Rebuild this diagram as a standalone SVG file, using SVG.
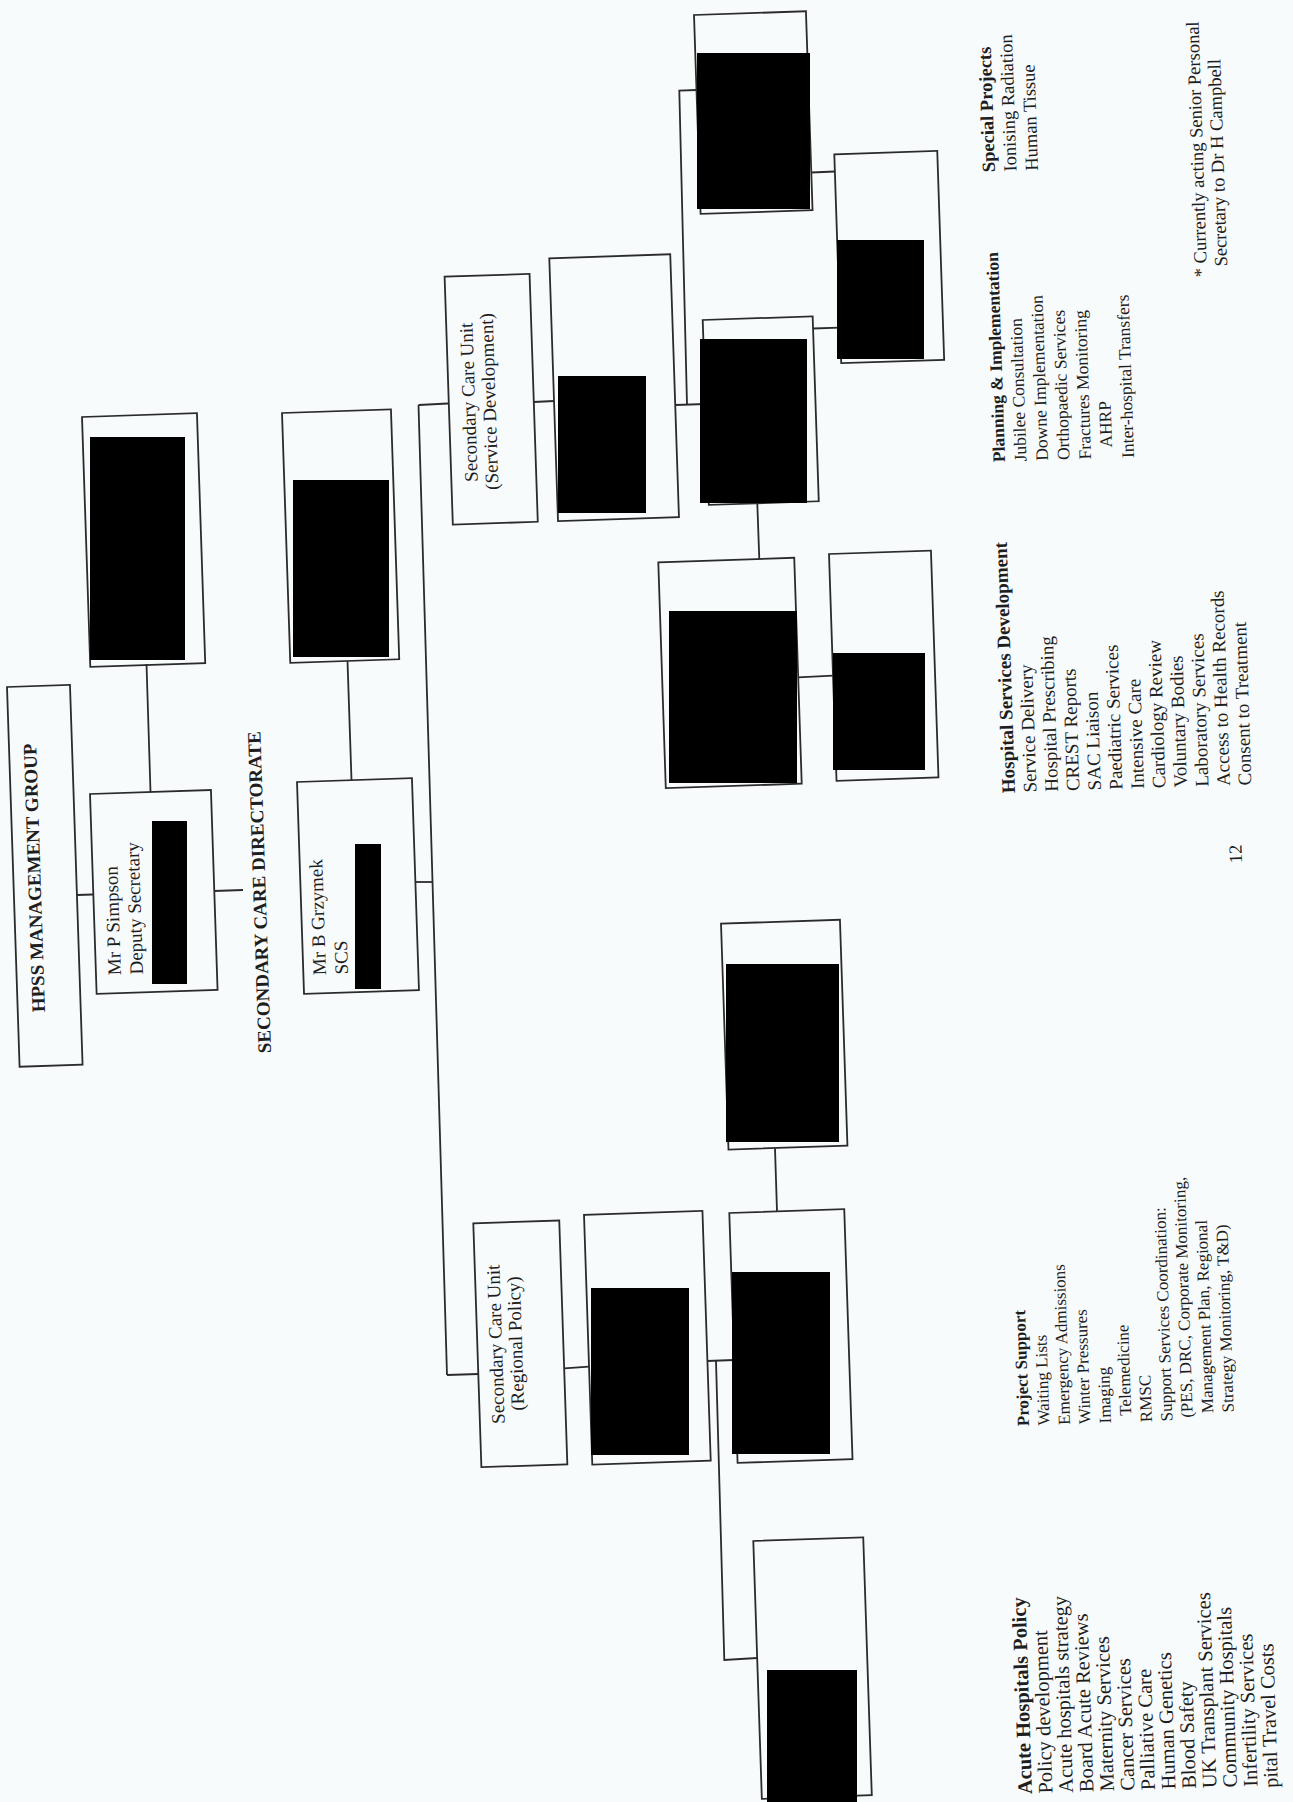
<svg xmlns="http://www.w3.org/2000/svg" width="1293" height="1802" viewBox="0 0 1293 1802">
<style>
.box{fill:none;stroke:#2b2b2b;stroke-width:1.8}
.red{fill:#000}
.ln{fill:none;stroke:#2b2b2b;stroke-width:1.8}
text{font-family:"Liberation Serif","Times New Roman",serif;fill:#1e1e1e}
.t{font-size:19px}
.b{font-weight:bold}
.l{font-size:18.5px}
.h{font-size:19px}
.s{font-size:17.5px}
.p{font-size:17px}
.a{font-size:20.5px}
</style>
<rect x="0" y="0" width="1293" height="1802" fill="#f8fbfc"/>

<g id="connectors">
<line class="ln" x1="77" y1="895" x2="93" y2="894.5"/>
<line class="ln" x1="214" y1="891" x2="243" y2="890"/>
<line class="ln" x1="150.5" y1="792" x2="146.5" y2="664"/>
<line class="ln" x1="351.5" y1="780" x2="347.5" y2="661"/>
<line class="ln" x1="415.5" y1="882" x2="432.5" y2="882"/>
<line class="ln" x1="418.5" y1="405" x2="447" y2="1375"/>
<line class="ln" x1="418.5" y1="405" x2="448" y2="403.5"/>
<line class="ln" x1="447" y1="1375" x2="478.3" y2="1374"/>
<line class="ln" x1="533.6" y1="402" x2="554" y2="401"/>
<line class="ln" x1="675.4" y1="405" x2="705.5" y2="404"/>
<polyline class="ln" points="687,404.5 679.3,90.7 696.5,90"/>
<line class="ln" x1="811.3" y1="172.5" x2="834.9" y2="171.5"/>
<line class="ln" x1="813" y1="328.5" x2="840" y2="327.7"/>
<line class="ln" x1="757.3" y1="503.4" x2="759.3" y2="559"/>
<line class="ln" x1="798" y1="677.3" x2="833" y2="675.7"/>
<line class="ln" x1="775" y1="1148.4" x2="777" y2="1211.4"/>
<line class="ln" x1="564.2" y1="1368.3" x2="589" y2="1366.7"/>
<line class="ln" x1="707.3" y1="1361" x2="734" y2="1360"/>
<polyline class="ln" points="716,1361 724.3,1660 757.2,1658"/>
</g>

<g id="hpss">
<rect class="box" x="7" y="687" width="63" height="380" transform="rotate(-1.9 7 687)"/>
<text class="t b" transform="translate(45 1012) rotate(-91.9)">HPSS MANAGEMENT GROUP</text>
</g>

<g id="simpson">
<rect class="box" x="90" y="794" width="121" height="200" transform="rotate(-1.9 90 794)"/>
<g transform="translate(121 975) rotate(-91.9)">
<text class="t" x="0" y="0">Mr P Simpson</text>
<text class="t" x="0" y="22">Deputy Secretary</text>
</g>
<rect class="red" x="152" y="821" width="35" height="163"/>
</g>

<g id="box-a">
<rect class="box" x="82" y="417" width="115" height="250" transform="rotate(-1.9 82 417)"/>
<rect class="red" x="90" y="437" width="95" height="223"/>
</g>

<g id="directorate-label">
<text class="t b" transform="translate(271 1053) rotate(-91.9)">SECONDARY CARE DIRECTORATE</text>
</g>

<g id="grzymek">
<rect class="box" x="297" y="782" width="115" height="212" transform="rotate(-1.9 297 782)"/>
<g transform="translate(326 975) rotate(-91.9)">
<text class="t" x="0" y="0">Mr B Grzymek</text>
<text class="t" x="0" y="22">SCS</text>
</g>
<rect class="red" x="355" y="844" width="26" height="145"/>
</g>

<g id="box-b">
<rect class="box" x="282" y="413" width="109" height="250" transform="rotate(-1.9 282 413)"/>
<rect class="red" x="293" y="480" width="96" height="177"/>
</g>

<g id="scu-service-development">
<rect class="box" x="444.6" y="276.7" width="85" height="248" transform="rotate(-1.9 444.6 276.7)"/>
<g transform="translate(475 402) rotate(-91.9)">
<text class="t" x="0" y="0" text-anchor="middle">Secondary Care Unit</text>
<text class="t" x="0" y="20.5" text-anchor="middle">(Service Development)</text>
</g>
</g>

<g id="box-c">
<rect class="box" x="549.3" y="258.3" width="121" height="263" transform="rotate(-1.9 549.3 258.3)"/>
<rect class="red" x="558" y="376" width="88" height="137"/>
</g>

<g id="box-d">
<rect class="box" x="702.7" y="320" width="110" height="185" transform="rotate(-1.9 702.7 320)"/>
<rect class="red" x="700" y="339" width="107" height="164"/>
</g>

<g id="box-e">
<rect class="box" x="694" y="15" width="112" height="199" transform="rotate(-1.9 694 15)"/>
<rect class="red" x="697" y="53" width="113" height="156"/>
</g>

<g id="box-f">
<rect class="box" x="834.3" y="154.3" width="103" height="209" transform="rotate(-1.9 834.3 154.3)"/>
<rect class="red" x="837" y="240" width="87" height="119"/>
</g>

<g id="box-g">
<rect class="box" x="658.3" y="562.3" width="136" height="226" transform="rotate(-1.9 658.3 562.3)"/>
<rect class="red" x="669" y="611" width="128" height="172"/>
</g>

<g id="box-h">
<rect class="box" x="829" y="554" width="102" height="227" transform="rotate(-1.9 829 554)"/>
<rect class="red" x="833" y="653" width="92" height="117"/>
</g>

<g id="scu-regional-policy">
<rect class="box" x="473.3" y="1223.3" width="86" height="244" transform="rotate(-1.9 473.3 1223.3)"/>
<g transform="translate(502 1344) rotate(-91.9)">
<text class="t" x="0" y="0" text-anchor="middle">Secondary Care Unit</text>
<text class="t" x="0" y="20" text-anchor="middle">(Regional Policy)</text>
</g>
</g>

<g id="box-i">
<rect class="box" x="584" y="1214.8" width="118.5" height="250" transform="rotate(-1.9 584 1214.8)"/>
<rect class="red" x="591" y="1288" width="98" height="167"/>
</g>

<g id="box-j">
<rect class="box" x="729.3" y="1213" width="115" height="250" transform="rotate(-1.9 729.3 1213)"/>
<rect class="red" x="732" y="1272" width="98" height="182"/>
</g>

<g id="box-k">
<rect class="box" x="721" y="923.7" width="119" height="226" transform="rotate(-1.9 721 923.7)"/>
<rect class="red" x="726" y="964" width="113" height="178"/>
</g>

<g id="box-l">
<rect class="box" x="753.3" y="1541" width="110" height="258" transform="rotate(-1.9 753.3 1541)"/>
<rect class="red" x="767" y="1670" width="90" height="132"/>
</g>

<g id="notes">
<g transform="translate(995 172) rotate(-91.9)">
<text class="l b" x="0" y="0">Special Projects</text>
<text class="l" x="0" y="21.5">Ionising Radiation</text>
<text class="l" x="0" y="43">Human Tissue</text>
</g>
<g transform="translate(1005 462) rotate(-91.9)">
<text class="s b" x="0" y="0">Planning &amp; Implementation</text>
<text class="s" x="0" y="21.5">Jubilee Consultation</text>
<text class="s" x="0" y="43">Downe Implementation</text>
<text class="s" x="0" y="64.5">Orthopaedic Services</text>
<text class="s" x="0" y="86">Fractures Monitoring</text>
<text class="s" x="11" y="107.5">AHRP</text>
<text class="s" x="0" y="129">Inter-hospital Transfers</text>
</g>
<g transform="translate(1207 277) rotate(-91.9)">
<text class="l" x="0" y="0">* Currently acting Senior Personal</text>
<text class="l" x="10" y="20.5">Secretary to Dr H Campbell</text>
</g>
<g transform="translate(1015 793) rotate(-91.9)">
<text class="h b" x="0" y="0">Hospital Services Development</text>
<text class="h" x="0" y="21.5">Service Delivery</text>
<text class="h" x="0" y="43">Hospital Prescribing</text>
<text class="h" x="0" y="64.5">CREST Reports</text>
<text class="h" x="0" y="86">SAC Liaison</text>
<text class="h" x="0" y="107.5">Paediatric Services</text>
<text class="h" x="0" y="129">Intensive Care</text>
<text class="h" x="0" y="150.5">Cardiology Review</text>
<text class="h" x="0" y="172">Voluntary Bodies</text>
<text class="h" x="0" y="193.5">Laboratory Services</text>
<text class="h" x="0" y="215">Access to Health Records</text>
<text class="h" x="0" y="236.5">Consent to Treatment</text>
</g>
<text class="l" transform="translate(1242 863) rotate(-91.9)">12</text>
<g transform="translate(1029 1426) rotate(-91.9)">
<text class="p b" x="0" y="0">Project Support</text>
<text class="p" x="0" y="20.5">Waiting Lists</text>
<text class="p" x="0" y="41">Emergency Admissions</text>
<text class="p" x="0" y="61.5">Winter Pressures</text>
<text class="p" x="0" y="82">Imaging</text>
<text class="p" x="7" y="102.5">Telemedicine</text>
<text class="p" x="0" y="123">RMSC</text>
<text class="p" x="0" y="143.5">Support Services Coordination:</text>
<text class="p" x="3" y="164">(PES, DRC, Corporate Monitoring,</text>
<text class="p" x="7" y="184.5">Management Plan, Regional</text>
<text class="p" x="7" y="205">Strategy Monitoring, T&amp;D)</text>
</g>
<g transform="translate(1032 1794) rotate(-91.9)">
<text class="a b" x="0" y="0">Acute Hospitals Policy</text>
<text class="a" x="0" y="20.5">Policy development</text>
<text class="a" x="0" y="41">Acute hospitals strategy</text>
<text class="a" x="0" y="61.5">Board Acute Reviews</text>
<text class="a" x="0" y="82">Maternity Services</text>
<text class="a" x="0" y="102.5">Cancer Services</text>
<text class="a" x="0" y="123">Palliative Care</text>
<text class="a" x="0" y="143.5">Human Genetics</text>
<text class="a" x="0" y="164">Blood Safety</text>
<text class="a" x="0" y="184.5">UK Transplant Services</text>
<text class="a" x="0" y="205">Community Hospitals</text>
<text class="a" x="0" y="225.5">Infertility Services</text>
<text class="a" x="-2" y="246">pital Travel Costs</text>
</g>
</g>
</svg>
